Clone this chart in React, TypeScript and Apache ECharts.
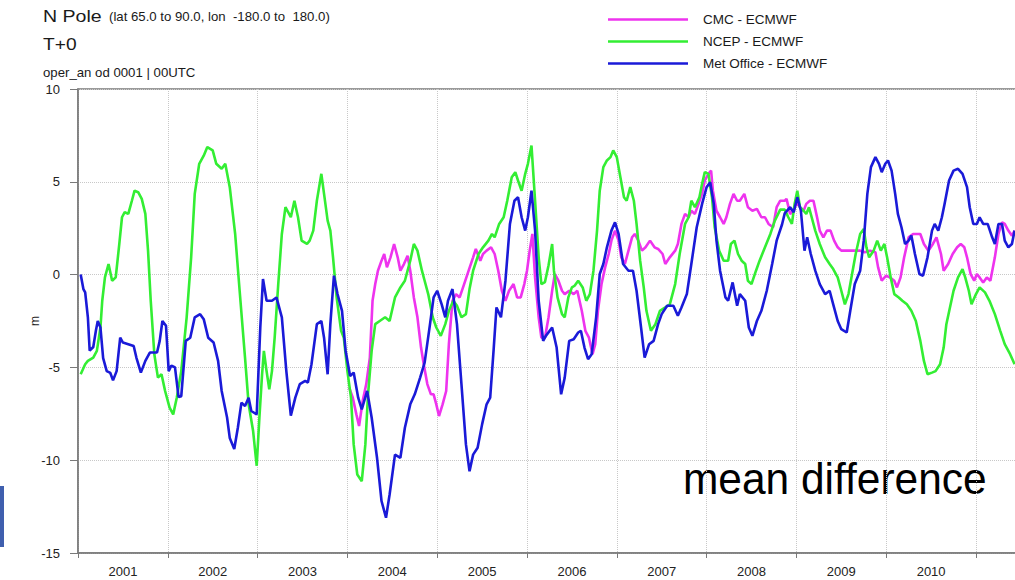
import React, { useEffect, useRef } from "react";
import * as echarts from "echarts";

const FONT = "'Liberation Sans', Arial, Helvetica, sans-serif";

const yearLabels = ["2001", "2002", "2003", "2004", "2005", "2006", "2007", "2008", "2009", "2010", ""];
const seriesNames = ["CMC - ECMWF", "NCEP - ECMWF", "Met Office - ECMWF"];
const seriesColors = ["#ee33ee", "#33ee33", "#1a1ad8"];

const cmcPoints: [number, number][] = [
  [2004.02,-6.09],[2004.06,-6.63],[2004.10,-7.53],[2004.13,-8.16],[2004.17,-6.81],[2004.21,-5.9],[2004.25,-4.47],[2004.28,-1.41],[2004.31,-0.51],[2004.34,0.21],[2004.38,0.75],[2004.41,1.11],[2004.44,0.39],[2004.48,0.93],[2004.52,1.65],[2004.56,0.93],[2004.59,0.21],[2004.63,0.57],[2004.67,1.02],[2004.70,0.21],[2004.74,-1.23],[2004.78,-2.3],[2004.82,-3.93],[2004.85,-4.83],[2004.89,-5.9],[2004.93,-6.45],[2004.96,-6.45],[2004.99,-6.99],
  [2005.02,-7.62],[2005.06,-6.99],[2005.10,-6.27],[2005.13,-3.75],[2005.17,-1.41],[2005.21,-1.05],[2005.25,-1.23],[2005.30,-0.51],[2005.35,0.21],[2005.40,0.93],[2005.43,1.38],[2005.48,0.75],[2005.51,1.11],[2005.55,1.29],[2005.60,1.47],[2005.64,1.11],[2005.68,0.21],[2005.72,-0.87],[2005.76,-1.41],[2005.80,-0.87],[2005.85,-0.51],[2005.89,-1.23],[2005.93,-1.23],[2005.97,-0.51],
  [2006.00,0.21],[2006.03,1.29],[2006.06,2.19],[2006.09,-0.15],[2006.13,-2.3],[2006.16,-3.4],[2006.20,-3.4],[2006.24,-2.3],[2006.28,-0.87],[2006.31,0.03],[2006.35,-0.33],[2006.39,-0.87],[2006.42,-1.05],[2006.47,-0.87],[2006.52,-1.05],[2006.56,-0.87],[2006.61,-1.95],[2006.65,-3.03],[2006.69,-3.4],[2006.73,-4.29],[2006.76,-3.75],[2006.79,-1.95],[2006.83,-0.51],[2006.87,0.39],[2006.91,1.11],[2006.94,1.83],[2006.98,2.37],
  [2007.02,1.83],[2007.05,0.93],[2007.09,0.57],[2007.13,1.29],[2007.17,2.01],[2007.20,2.19],[2007.24,1.83],[2007.28,1.29],[2007.32,1.47],[2007.37,1.83],[2007.42,1.47],[2007.46,1.38],[2007.51,1.11],[2007.54,0.57],[2007.59,0.93],[2007.65,1.29],[2007.68,1.65],[2007.72,2.73],[2007.76,3.27],[2007.80,3.09],[2007.83,3.44],[2007.87,3.27],[2007.91,3.81],[2007.95,4.35],[2007.98,5.07],
  [2008.02,5.43],[2008.05,5.6],[2008.07,4.52],[2008.11,3.44],[2008.15,3.09],[2008.19,2.73],[2008.22,3.09],[2008.26,3.81],[2008.30,4.35],[2008.34,3.98],[2008.37,3.98],[2008.42,4.35],[2008.46,3.63],[2008.51,3.44],[2008.56,3.54],[2008.61,3.09],[2008.65,3.09],[2008.69,2.73],[2008.74,2.55],[2008.78,3.63],[2008.82,3.98],[2008.87,3.98],[2008.89,4.08],[2008.93,3.27],[2008.97,3.44],
  [2009.00,3.9],[2009.04,3.63],[2009.08,3.44],[2009.11,3.81],[2009.15,3.98],[2009.19,3.98],[2009.23,3.09],[2009.26,2.37],[2009.30,2.01],[2009.34,2.37],[2009.38,2.37],[2009.42,1.83],[2009.46,1.47],[2009.50,1.29],[2009.56,1.29],[2009.63,1.29],[2009.71,1.29],[2009.76,1.2],[2009.82,1.29],[2009.88,1.2],[2009.91,0.39],[2009.95,-0.33],
  [2010.00,-0.06],[2010.04,-0.15],[2010.09,-0.33],[2010.12,-0.69],[2010.16,-0.15],[2010.20,0.93],[2010.25,2.01],[2010.30,2.19],[2010.34,2.19],[2010.38,2.19],[2010.42,1.65],[2010.47,1.29],[2010.52,1.65],[2010.56,2.01],[2010.61,1.11],[2010.64,0.21],[2010.69,0.57],[2010.74,1.11],[2010.79,1.47],[2010.83,1.65],[2010.87,1.47],[2010.90,0.93],[2010.94,0.03],[2010.98,-0.33],
  [2011.01,0.03],[2011.04,-0.15],[2011.08,-0.42],[2011.12,-0.15],[2011.16,-0.33],[2011.21,0.93],[2011.25,2.19],[2011.29,2.82],[2011.32,2.73],[2011.36,2.37],[2011.40,2.1],[2011.43,2.37],
];

const ncepPoints: [number, number][] = [
  [2001.03,-5.37],[2001.08,-4.83],[2001.11,-4.65],[2001.17,-4.47],[2001.21,-4.11],[2001.25,-2.85],[2001.27,-1.41],[2001.30,-0.15],[2001.34,0.57],[2001.38,-0.33],[2001.42,-0.15],[2001.46,1.65],[2001.49,3.09],[2001.52,3.36],[2001.56,3.27],[2001.60,3.98],[2001.63,4.52],[2001.67,4.44],[2001.71,4.08],[2001.75,3.27],[2001.78,1.29],[2001.81,-1.41],[2001.85,-4.29],[2001.89,-5.55],[2001.93,-5.37],[2001.97,-6.27],
  [2002.02,-7.17],[2002.06,-7.53],[2002.10,-6.63],[2002.15,-5.2],[2002.21,-2.3],[2002.26,0.93],[2002.30,4.35],[2002.35,5.97],[2002.40,6.41],[2002.44,6.87],[2002.50,6.69],[2002.54,5.97],[2002.60,5.7],[2002.64,5.97],[2002.69,4.71],[2002.75,2.19],[2002.80,-0.87],[2002.86,-4.47],[2002.90,-6.99],[2002.95,-8.43],[2002.99,-10.3],
  [2003.02,-7.71],[2003.05,-5.37],[2003.07,-4.11],[2003.10,-5.2],[2003.13,-6.18],[2003.16,-5.2],[2003.19,-3.4],[2003.23,-0.51],[2003.27,2.19],[2003.31,3.63],[2003.34,3.36],[2003.37,3.09],[2003.41,3.98],[2003.45,3.09],[2003.49,1.83],[2003.55,1.65],[2003.58,1.83],[2003.62,2.37],[2003.66,3.98],[2003.71,5.43],[2003.74,4.35],[2003.78,2.91],[2003.81,2.37],[2003.84,0.93],[2003.88,-1.23],[2003.93,-3.03],[2003.96,-3.4],
  [2004.00,-5.2],[2004.04,-6.63],[2004.07,-9.15],[2004.11,-10.77],[2004.16,-11.13],[2004.20,-9.15],[2004.23,-6.45],[2004.27,-4.11],[2004.31,-2.67],[2004.36,-2.5],[2004.42,-2.3],[2004.47,-2.5],[2004.53,-1.23],[2004.59,-0.69],[2004.64,-0.33],[2004.70,0.75],[2004.74,1.65],[2004.78,1.29],[2004.83,0.21],[2004.86,-0.33],[2004.90,-1.05],[2004.95,-2.3],[2004.99,-2.85],
  [2005.04,-3.3],[2005.09,-2.67],[2005.13,-1.95],[2005.18,-1.41],[2005.22,-1.68],[2005.27,-2.3],[2005.32,-2.13],[2005.36,-0.78],[2005.40,0.21],[2005.46,1.11],[2005.51,1.47],[2005.57,1.83],[2005.61,2.19],[2005.64,2.01],[2005.69,2.73],[2005.74,3.09],[2005.78,3.98],[2005.83,5.25],[2005.87,5.52],[2005.90,5.07],[2005.94,4.52],[2005.98,5.43],
  [2006.01,5.97],[2006.05,6.95],[2006.09,3.98],[2006.13,0.93],[2006.16,-0.51],[2006.20,-0.4],[2006.24,0.5],[2006.28,1.65],[2006.30,0.21],[2006.34,-1.23],[2006.39,-2.13],[2006.42,-2.3],[2006.46,-1.23],[2006.50,-0.69],[2006.53,-0.6],[2006.57,-0.33],[2006.62,-0.69],[2006.66,-1.41],[2006.70,-1.05],[2006.74,0.21],[2006.78,2.37],[2006.81,4.52],[2006.85,5.79],[2006.89,6.15],[2006.93,6.33],[2006.96,6.69],
  [2007.00,6.33],[2007.04,5.25],[2007.08,4.17],[2007.11,3.98],[2007.15,4.71],[2007.19,3.98],[2007.22,2.73],[2007.26,0.75],[2007.30,-0.69],[2007.33,-1.95],[2007.38,-3.03],[2007.43,-2.67],[2007.48,-1.95],[2007.54,-1.77],[2007.59,-1.6],[2007.65,-0.51],[2007.70,1.11],[2007.76,2.73],[2007.80,3.09],[2007.83,3.98],[2007.87,3.63],[2007.92,4.17],[2007.95,4.89],[2007.98,5.52],
  [2008.02,5.43],[2008.06,4.17],[2008.09,2.55],[2008.14,1.29],[2008.19,0.75],[2008.24,0.75],[2008.27,1.65],[2008.31,1.83],[2008.35,1.11],[2008.39,0.75],[2008.43,0.57],[2008.46,-0.33],[2008.50,-0.51],[2008.55,0.21],[2008.59,0.75],[2008.65,1.47],[2008.71,2.19],[2008.76,2.91],[2008.82,3.5],[2008.87,3.5],[2008.91,3.09],[2008.95,2.73],[2008.98,3.81],
  [2009.01,4.52],[2009.04,3.63],[2009.08,3.44],[2009.11,3.27],[2009.14,3.63],[2009.17,3.09],[2009.21,2.37],[2009.26,1.65],[2009.32,0.93],[2009.37,0.57],[2009.41,0.3],[2009.46,-0.15],[2009.50,-0.87],[2009.54,-1.6],[2009.58,-1.05],[2009.62,0.03],[2009.66,1.11],[2009.71,2.19],[2009.75,2.46],[2009.78,1.47],[2009.81,0.93],[2009.86,1.29],[2009.90,1.83],[2009.94,1.29],[2009.98,1.65],
  [2010.01,0.93],[2010.05,-0.15],[2010.09,-1.05],[2010.14,-1.23],[2010.18,-1.41],[2010.23,-1.6],[2010.28,-1.95],[2010.33,-2.5],[2010.38,-3.57],[2010.42,-4.65],[2010.46,-5.37],[2010.51,-5.28],[2010.55,-5.2],[2010.60,-4.83],[2010.64,-3.93],[2010.67,-2.67],[2010.71,-1.77],[2010.75,-0.87],[2010.80,-0.15],[2010.85,0.3],[2010.88,-0.15],[2010.92,-0.87],[2010.95,-1.6],
  [2011.00,-1.05],[2011.04,-0.69],[2011.10,-0.96],[2011.15,-1.41],[2011.21,-2.13],[2011.27,-3.03],[2011.32,-3.75],[2011.38,-4.29],[2011.43,-4.83],
];

const metOfficePoints: [number, number][] = [
  [2001.03,0],[2001.06,-0.78],[2001.08,-0.96],[2001.11,-2.3],[2001.13,-4.1],[2001.17,-3.9],[2001.20,-3.0],[2001.22,-2.5],[2001.25,-2.85],[2001.28,-4.5],[2001.32,-5.2],[2001.36,-5.3],[2001.39,-5.7],[2001.43,-5.2],[2001.47,-3.4],[2001.50,-3.66],[2001.56,-3.75],[2001.62,-3.85],[2001.65,-4.47],[2001.70,-5.28],[2001.75,-4.65],[2001.80,-4.2],[2001.88,-4.2],[2001.91,-3.57],[2001.94,-2.5],[2001.98,-2.76],
  [2002.01,-5.2],[2002.04,-4.9],[2002.08,-5.0],[2002.12,-6.6],[2002.15,-6.55],[2002.20,-3.57],[2002.25,-3.4],[2002.30,-2.3],[2002.36,-2.13],[2002.40,-2.4],[2002.45,-3.4],[2002.51,-3.66],[2002.56,-4.65],[2002.60,-6.27],[2002.66,-7.7],[2002.69,-8.8],[2002.74,-9.4],[2002.78,-8.25],[2002.82,-6.9],[2002.86,-7.08],[2002.90,-6.63],[2002.93,-7.35],[2002.99,-7.53],
  [2003.03,-2.85],[2003.06,-0.24],[2003.10,-1.41],[2003.16,-1.41],[2003.21,-1.23],[2003.27,-2.3],[2003.32,-5.2],[2003.37,-7.6],[2003.42,-6.63],[2003.47,-5.9],[2003.53,-5.73],[2003.56,-5.82],[2003.60,-4.83],[2003.66,-2.67],[2003.71,-2.5],[2003.74,-3.4],[2003.78,-5.37],[2003.81,-2.67],[2003.85,-0.06],[2003.89,-1.05],[2003.94,-1.95],[2003.98,-4.1],
  [2004.03,-5.46],[2004.07,-5.28],[2004.12,-6.63],[2004.16,-7.26],[2004.22,-6.27],[2004.27,-7.7],[2004.33,-9.87],[2004.38,-12.2],[2004.43,-13.1],[2004.47,-11.85],[2004.53,-9.7],[2004.59,-9.87],[2004.64,-8.25],[2004.70,-6.99],[2004.75,-6.45],[2004.81,-5.55],[2004.86,-4.74],[2004.92,-2.67],[2004.96,-1.23],
  [2005.00,-0.87],[2005.05,-1.6],[2005.09,-2.3],[2005.12,-1.41],[2005.17,-0.78],[2005.22,-2.67],[2005.27,-5.9],[2005.32,-9.15],[2005.36,-10.6],[2005.40,-9.7],[2005.45,-9.33],[2005.50,-8.07],[2005.55,-6.99],[2005.59,-6.63],[2005.63,-3.93],[2005.66,-1.77],[2005.71,-2.3],[2005.76,-0.33],[2005.81,2.73],[2005.86,3.98],[2005.90,4.17],[2005.94,3.09],[2005.98,2.37],
  [2006.01,3.09],[2006.05,4.52],[2006.09,2.37],[2006.13,-1.41],[2006.18,-3.57],[2006.21,-3.3],[2006.28,-2.85],[2006.33,-3.93],[2006.38,-6.45],[2006.42,-5.55],[2006.47,-3.57],[2006.52,-3.48],[2006.57,-3.12],[2006.60,-3.03],[2006.64,-3.93],[2006.68,-4.56],[2006.72,-4.29],[2006.77,-2.3],[2006.81,0.03],[2006.85,0.57],[2006.89,1.47],[2006.94,2.37],[2006.98,2.82],
  [2007.02,2.19],[2007.07,0.57],[2007.13,0.21],[2007.18,0.21],[2007.22,-0.87],[2007.27,-2.85],[2007.31,-4.47],[2007.36,-3.75],[2007.41,-3.57],[2007.46,-2.67],[2007.50,-2.13],[2007.56,-1.68],[2007.63,-1.68],[2007.68,-2.22],[2007.72,-1.77],[2007.78,-1.05],[2007.83,0.57],[2007.89,2.55],[2007.95,3.81],
  [2008.00,4.71],[2008.04,4.98],[2008.08,3.81],[2008.11,1.83],[2008.15,0.21],[2008.21,-1.23],[2008.24,-1.41],[2008.29,-0.42],[2008.34,-1.68],[2008.37,-1.05],[2008.43,-1.41],[2008.47,-2.85],[2008.51,-3.3],[2008.56,-2.5],[2008.61,-1.95],[2008.67,-0.87],[2008.73,0.57],[2008.78,1.83],[2008.84,2.7],[2008.87,3.3],[2008.93,3.63],[2008.97,3.36],
  [2009.01,4.17],[2009.05,3.44],[2009.09,1.29],[2009.12,2.01],[2009.16,1.11],[2009.21,0.21],[2009.26,-0.51],[2009.32,-1.05],[2009.37,-0.87],[2009.41,-1.6],[2009.46,-2.5],[2009.50,-2.94],[2009.56,-3.12],[2009.60,-1.95],[2009.65,-0.51],[2009.71,0.21],[2009.75,1.83],[2009.79,4.35],[2009.83,5.79],[2009.88,6.33],[2009.92,5.97],[2009.95,5.52],[2009.99,5.97],
  [2010.02,6.15],[2010.06,5.6],[2010.10,4.35],[2010.13,3.27],[2010.17,2.55],[2010.21,1.65],[2010.25,1.83],[2010.28,2.1],[2010.32,1.11],[2010.37,0.03],[2010.41,-0.06],[2010.46,0.93],[2010.51,2.37],[2010.54,2.73],[2010.58,2.37],[2010.62,3.09],[2010.65,3.81],[2010.70,5.07],[2010.75,5.6],[2010.80,5.7],[2010.85,5.43],[2010.90,4.71],[2010.93,3.63],[2010.97,2.73],
  [2011.01,2.73],[2011.04,3.09],[2011.08,2.73],[2011.13,2.73],[2011.18,2.01],[2011.21,1.65],[2011.25,2.73],[2011.29,2.73],[2011.32,1.83],[2011.36,1.47],[2011.40,1.65],[2011.43,2.37],
];

const seriesData = [cmcPoints, ncepPoints, metOfficePoints];

export default function App() {
  const ref = useRef<HTMLDivElement>(null);

  useEffect(() => {
    if (!ref.current) return;
    const chart = echarts.init(ref.current, null, { renderer: "svg" });
    const axisGray = "#7a7a7a";
    const gridGray = "#c8c8c8";
    const headText = (text: string, x: number, y: number, size: number, sx: number) => ({
      type: "text",
      x,
      y,
      scaleX: sx,
      silent: true,
      style: { text, fontSize: size, fontFamily: FONT, fill: "#1a1a1a", verticalAlign: "middle", align: "left" },
    });
    chart.setOption({
      animation: false,
      backgroundColor: "#ffffff",
      textStyle: { fontFamily: FONT },
      grid: {
        left: 78,
        top: 89,
        width: 987.8,
        height: 464,
        show: true,
        borderColor: axisGray,
        borderWidth: 1.5,
        containLabel: false,
        outerBoundsMode: "none",
      },
      legend: {
        orient: "vertical",
        left: 603,
        top: 7,
        icon: "rect",
        itemWidth: 80,
        itemHeight: 2.5,
        itemGap: 7,
        selectedMode: false,
        data: seriesNames,
        textStyle: { fontSize: 13.5, color: "#1a1a1a", fontFamily: FONT, padding: [0, 0, 0, 10], lineHeight: 15 },
      },
      xAxis: [
        {
          type: "value",
          min: 2001,
          max: 2012,
          interval: 1,
          axisLine: { show: true, onZero: false, lineStyle: { color: axisGray, width: 1.5 } },
          axisTick: { show: true, length: 5, lineStyle: { color: axisGray } },
          axisLabel: { show: false },
          splitLine: { show: true, lineStyle: { color: gridGray, type: "dotted", width: 1 } },
        },
        {
          type: "category",
          data: yearLabels,
          boundaryGap: true,
          position: "bottom",
          axisLine: { show: false },
          axisTick: { show: false },
          splitLine: { show: false },
          axisLabel: { interval: 0, margin: 12, fontSize: 13, color: "#222", fontFamily: FONT },
        },
      ],
      yAxis: {
        type: "value",
        min: -15,
        max: 10,
        interval: 5,
        name: "m",
        nameLocation: "middle",
        nameGap: 37,
        nameRotate: 90,
        nameMoveOverlap: false,
        nameTextStyle: { fontSize: 12, color: "#222", fontFamily: FONT },
        axisLine: { show: true, lineStyle: { color: axisGray, width: 1.5 } },
        axisTick: { show: true, length: 8, lineStyle: { color: axisGray } },
        axisLabel: { fontSize: 13, color: "#222", margin: 18, fontFamily: FONT },
        splitLine: { show: true, lineStyle: { color: gridGray, type: "dotted", width: 1 } },
      },
      series: seriesNames.map((name, i) => ({
        name,
        type: "line",
        xAxisIndex: 0,
        data: seriesData[i],
        showSymbol: false,
        symbol: "none",
        color: seriesColors[i],
        lineStyle: { color: seriesColors[i], width: 2.6 },
        clip: true,
        z: 2 + i,
      })),
      graphic: [
        headText("N Pole", 43, 16, 17, 1.15),
        headText("(lat 65.0 to 90.0, lon  -180.0 to  180.0)", 109, 17.5, 12, 1.1),
        headText("T+0", 43, 44, 17, 1.13),
        headText("oper_an od 0001 | 00UTC", 43, 73.5, 12, 1.1),
        {
          type: "text",
          x: 683,
          y: 479,
          scaleX: 0.965,
          silent: true,
          style: { text: "mean difference", fontSize: 44, fontFamily: FONT, fill: "#000", verticalAlign: "middle", align: "left" },
        },
        {
          type: "rect",
          silent: true,
          shape: { x: 0, y: 486, width: 4, height: 61 },
          style: { fill: "#3f5fae" },
        },
      ],
    });
    return () => chart.dispose();
  }, []);

  return (
    <div style={{ position: "fixed", left: 0, top: 0, width: 1015, height: 580, overflow: "hidden", background: "#fff" }}>
      <div ref={ref} style={{ width: 1080, height: 580 }} />
    </div>
  );
}
